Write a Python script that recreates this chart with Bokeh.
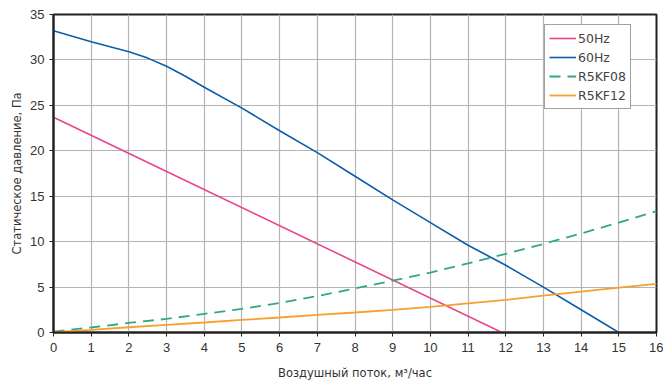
from bokeh.plotting import figure
from bokeh.models import Range1d, Legend, LegendItem, FixedTicker
from bokeh.embed import file_html
from bokeh.resources import INLINE

x_vals = list(range(0, 17))
hz50_x = [0, 11.9]
hz50_y = [23.7, 0]
hz60_x = [0, 1, 2, 2.5, 3, 3.5, 4, 5, 6, 7, 8, 9, 10, 11, 12, 13, 14, 15]
hz60_y = [33.2, 32.0, 30.9, 30.2, 29.3, 28.2, 27.0, 24.7, 22.2, 19.8, 17.2, 14.6, 12.1, 9.6, 7.4, 5.0, 2.5, 0.0]
kf08_y = [0.1, 0.55, 1.05, 1.5, 2.05, 2.6, 3.25, 4.0, 4.85, 5.7, 6.6, 7.6, 8.65, 9.75, 10.9, 12.1, 13.35]
kf12_y = [0.05, 0.3, 0.58, 0.85, 1.1, 1.38, 1.65, 1.93, 2.2, 2.5, 2.82, 3.2, 3.6, 4.05, 4.5, 4.95, 5.35]

x_ticks = list(range(0, 17))
y_ticks = [0, 5, 10, 15, 20, 25, 30, 35]

p = figure(width=663, height=382, output_backend="svg", toolbar_location=None,
           x_range=Range1d(0, 16), y_range=Range1d(0, 35),
           min_border_left=53, min_border_right=7, min_border_top=14, min_border_bottom=48)

p.outline_line_color = "#222222"
p.outline_line_width = 2

for ax in (p.xaxis, p.yaxis):
    ax.axis_line_color = "#222222"
    ax.axis_line_width = 2
    ax.major_tick_line_color = "#222222"
    ax.major_tick_in = 0
    ax.major_tick_out = 4
    ax.minor_tick_line_color = None
    ax.major_label_text_font = "Liberation Sans"
    ax.major_label_text_font_size = "13px"
    ax.major_label_text_color = "#333333"
    ax.axis_label_text_font = "DejaVu Sans"
    ax.axis_label_text_font_size = "11.5px"
    ax.axis_label_text_font_style = "normal"
    ax.axis_label_text_color = "#333333"

p.xaxis.ticker = FixedTicker(ticks=x_ticks)
p.yaxis.ticker = FixedTicker(ticks=y_ticks)
p.xaxis.axis_label = "Воздушный поток, м³/час"
p.yaxis.axis_label = "Статическое давление, Па"
p.xaxis.major_label_standoff = 6
p.xaxis.axis_label_standoff = 11
p.yaxis.axis_label_standoff = 3

p.xgrid.grid_line_color = "#b4b4b4"
p.ygrid.grid_line_color = "#b4b4b4"
p.xgrid.grid_line_width = 1.2
p.ygrid.grid_line_width = 1.2

r1 = p.line(hz50_x, hz50_y, line_color="#E8458E", line_width=1.6)
r2 = p.line(hz60_x, hz60_y, line_color="#0A5DAA", line_width=1.6)
r3 = p.line(x_vals, kf08_y, line_color="#2FAA80", line_width=1.8, line_dash="11 7")
r4 = p.line(x_vals, kf12_y, line_color="#F7A030", line_width=1.8)

legend = Legend(items=[
    LegendItem(label="50Hz", renderers=[r1]),
    LegendItem(label="60Hz", renderers=[r2]),
    LegendItem(label="R5KF08", renderers=[r3]),
    LegendItem(label="R5KF12", renderers=[r4]),
], location=(491, 223))
legend.label_text_font = "DejaVu Sans"
legend.label_text_font_size = "12.5px"
legend.label_text_color = "#444444"
legend.glyph_width = 27
legend.glyph_height = 18
legend.label_height = 18
legend.spacing = 1
legend.padding = 4
legend.margin = 0
legend.label_standoff = 2
legend.border_line_color = "#444444"
legend.border_line_width = 1
legend.background_fill_alpha = 1
p.add_layout(legend, "center")

open("out.html", "w").write(file_html(p, INLINE))
